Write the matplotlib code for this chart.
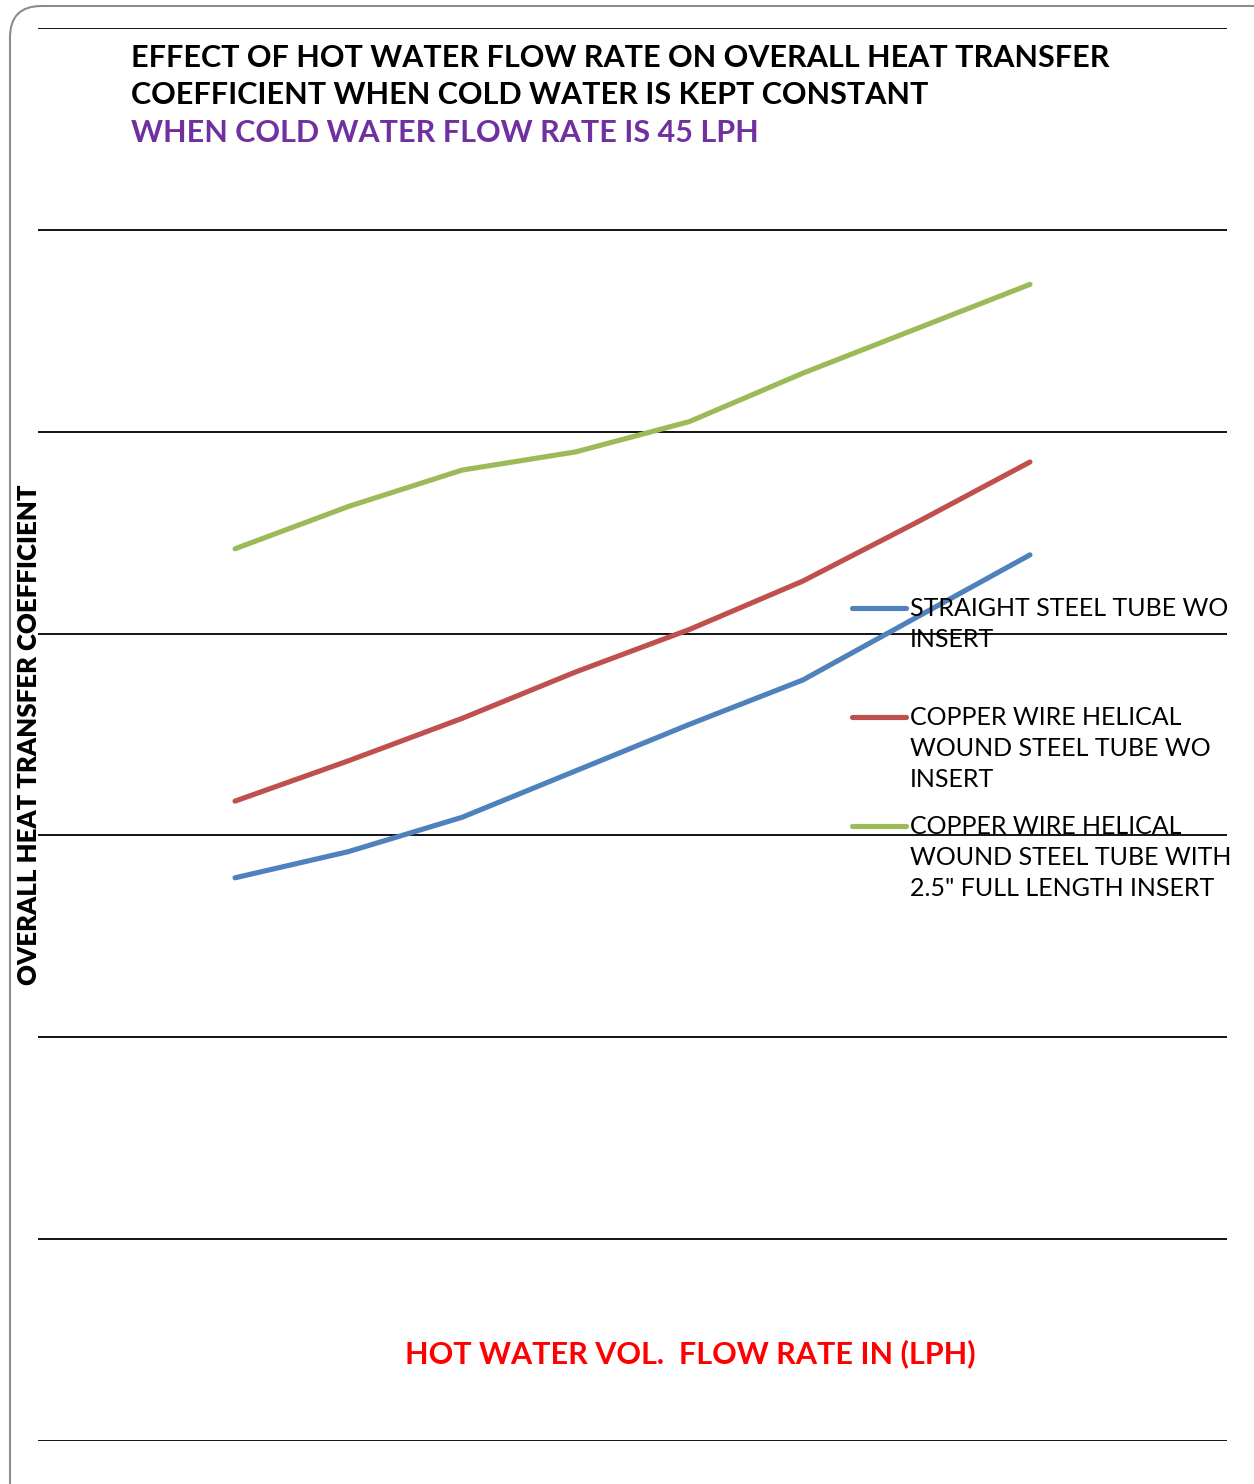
import matplotlib
matplotlib.use("Agg")
import matplotlib.pyplot as plt
from matplotlib.patches import FancyBboxPatch

# hot water flow points (categories, no labels shown on the chart)
flow_points = [0, 1, 2, 3, 4, 5, 6, 7]

# overall heat transfer coefficient (100 per grid step)
straight_tube = [279, 292, 309, 332, 355, 377, 408, 439]
helical_wo_insert = [317, 337, 358, 381, 402, 426, 455, 485]
helical_with_insert = [442, 463, 481, 490, 505, 529, 551, 573]

series_labels = [
    "STRAIGHT STEEL TUBE WO\nINSERT",
    "COPPER WIRE HELICAL\nWOUND STEEL TUBE WO\nINSERT",
    "COPPER WIRE HELICAL\nWOUND STEEL TUBE WITH\n2.5\" FULL LENGTH INSERT",
]
series_colors = ["#4F81BD", "#C0504D", "#9BBB59"]

grid_levels = [0, 100, 200, 300, 400, 500, 600, 700]

plt.rcParams["font.family"] = ["Lato", "DejaVu Sans"]

W, H = 1254, 1484
fig = plt.figure(figsize=(W / 100, H / 100), dpi=100)

# rounded frame around the whole chart (kept behind the axes)
frame = FancyBboxPatch((10 / W, -0.05), 1.2, 1 - 6 / H + 0.05,
                       boxstyle="round,pad=0,rounding_size=0.025",
                       transform=fig.transFigure, facecolor="white",
                       edgecolor="#8c8c8c", linewidth=1.5, mutation_aspect=W / H,
                       zorder=-10)
fig.patches.append(frame)

ax = fig.add_axes([38 / W, 1 - 1441 / H, (1227 - 38) / W, (1441 - 28) / H])
ax.set_zorder(1)
ax.patch.set_alpha(0)
for s in ax.spines.values():
    s.set_visible(False)
ax.set_xticks([])
ax.set_yticks([])
for g in grid_levels:
    ax.axhline(g, color="black", linewidth=1.3, zorder=1)

all_series = [straight_tube, helical_wo_insert, helical_with_insert]
for vals, col in zip(all_series, series_colors):
    ax.plot(flow_points, vals, color=col, linewidth=3.7,
            solid_capstyle="round", solid_joinstyle="round", zorder=3)

ax.set_xlim(-1.735, 8.735)
ax.set_ylim(0, 700)

# legend drawn by hand so the key sits on the first text line
leg_y = [608, 717, 826]
for y, col, lab in zip(leg_y, series_colors, series_labels):
    ax.plot([852 / W, 906 / W], [1 - y / H] * 2, color=col, linewidth=3.7,
            solid_capstyle="round", transform=fig.transFigure, clip_on=False, zorder=4)
    ax.text(910 / W, 1 - (y - 11) / H, lab, fontsize=18, va="top", ha="left",
            linespacing=1.42, color="black", transform=fig.transFigure, zorder=5)

# titles
fig.text(131 / W, 1 - 58 / H, "EFFECT OF HOT WATER FLOW RATE ON OVERALL HEAT TRANSFER",
         fontsize=22, fontweight="bold", va="center", ha="left")
fig.text(131 / W, 1 - 95 / H, "COEFFICIENT WHEN COLD WATER IS KEPT CONSTANT",
         fontsize=22, fontweight="bold", va="center", ha="left")
fig.text(131 / W, 1 - 133 / H, "WHEN COLD WATER FLOW RATE IS 45 LPH",
         fontsize=22, fontweight="bold", va="center", ha="left", color="#7030A0")

fig.text(29 / W, 1 - 735 / H, "OVERALL HEAT TRANSFER COEFFICIENT",
         fontsize=18.5, fontweight="heavy", rotation=90, va="center", ha="center")
fig.text(690 / W, 1 - 1354 / H, "HOT WATER VOL.  FLOW RATE IN (LPH)",
         fontsize=22, fontweight="bold", va="center", ha="center", color="#FF0000")

fig.savefig("out.png", dpi=100)
